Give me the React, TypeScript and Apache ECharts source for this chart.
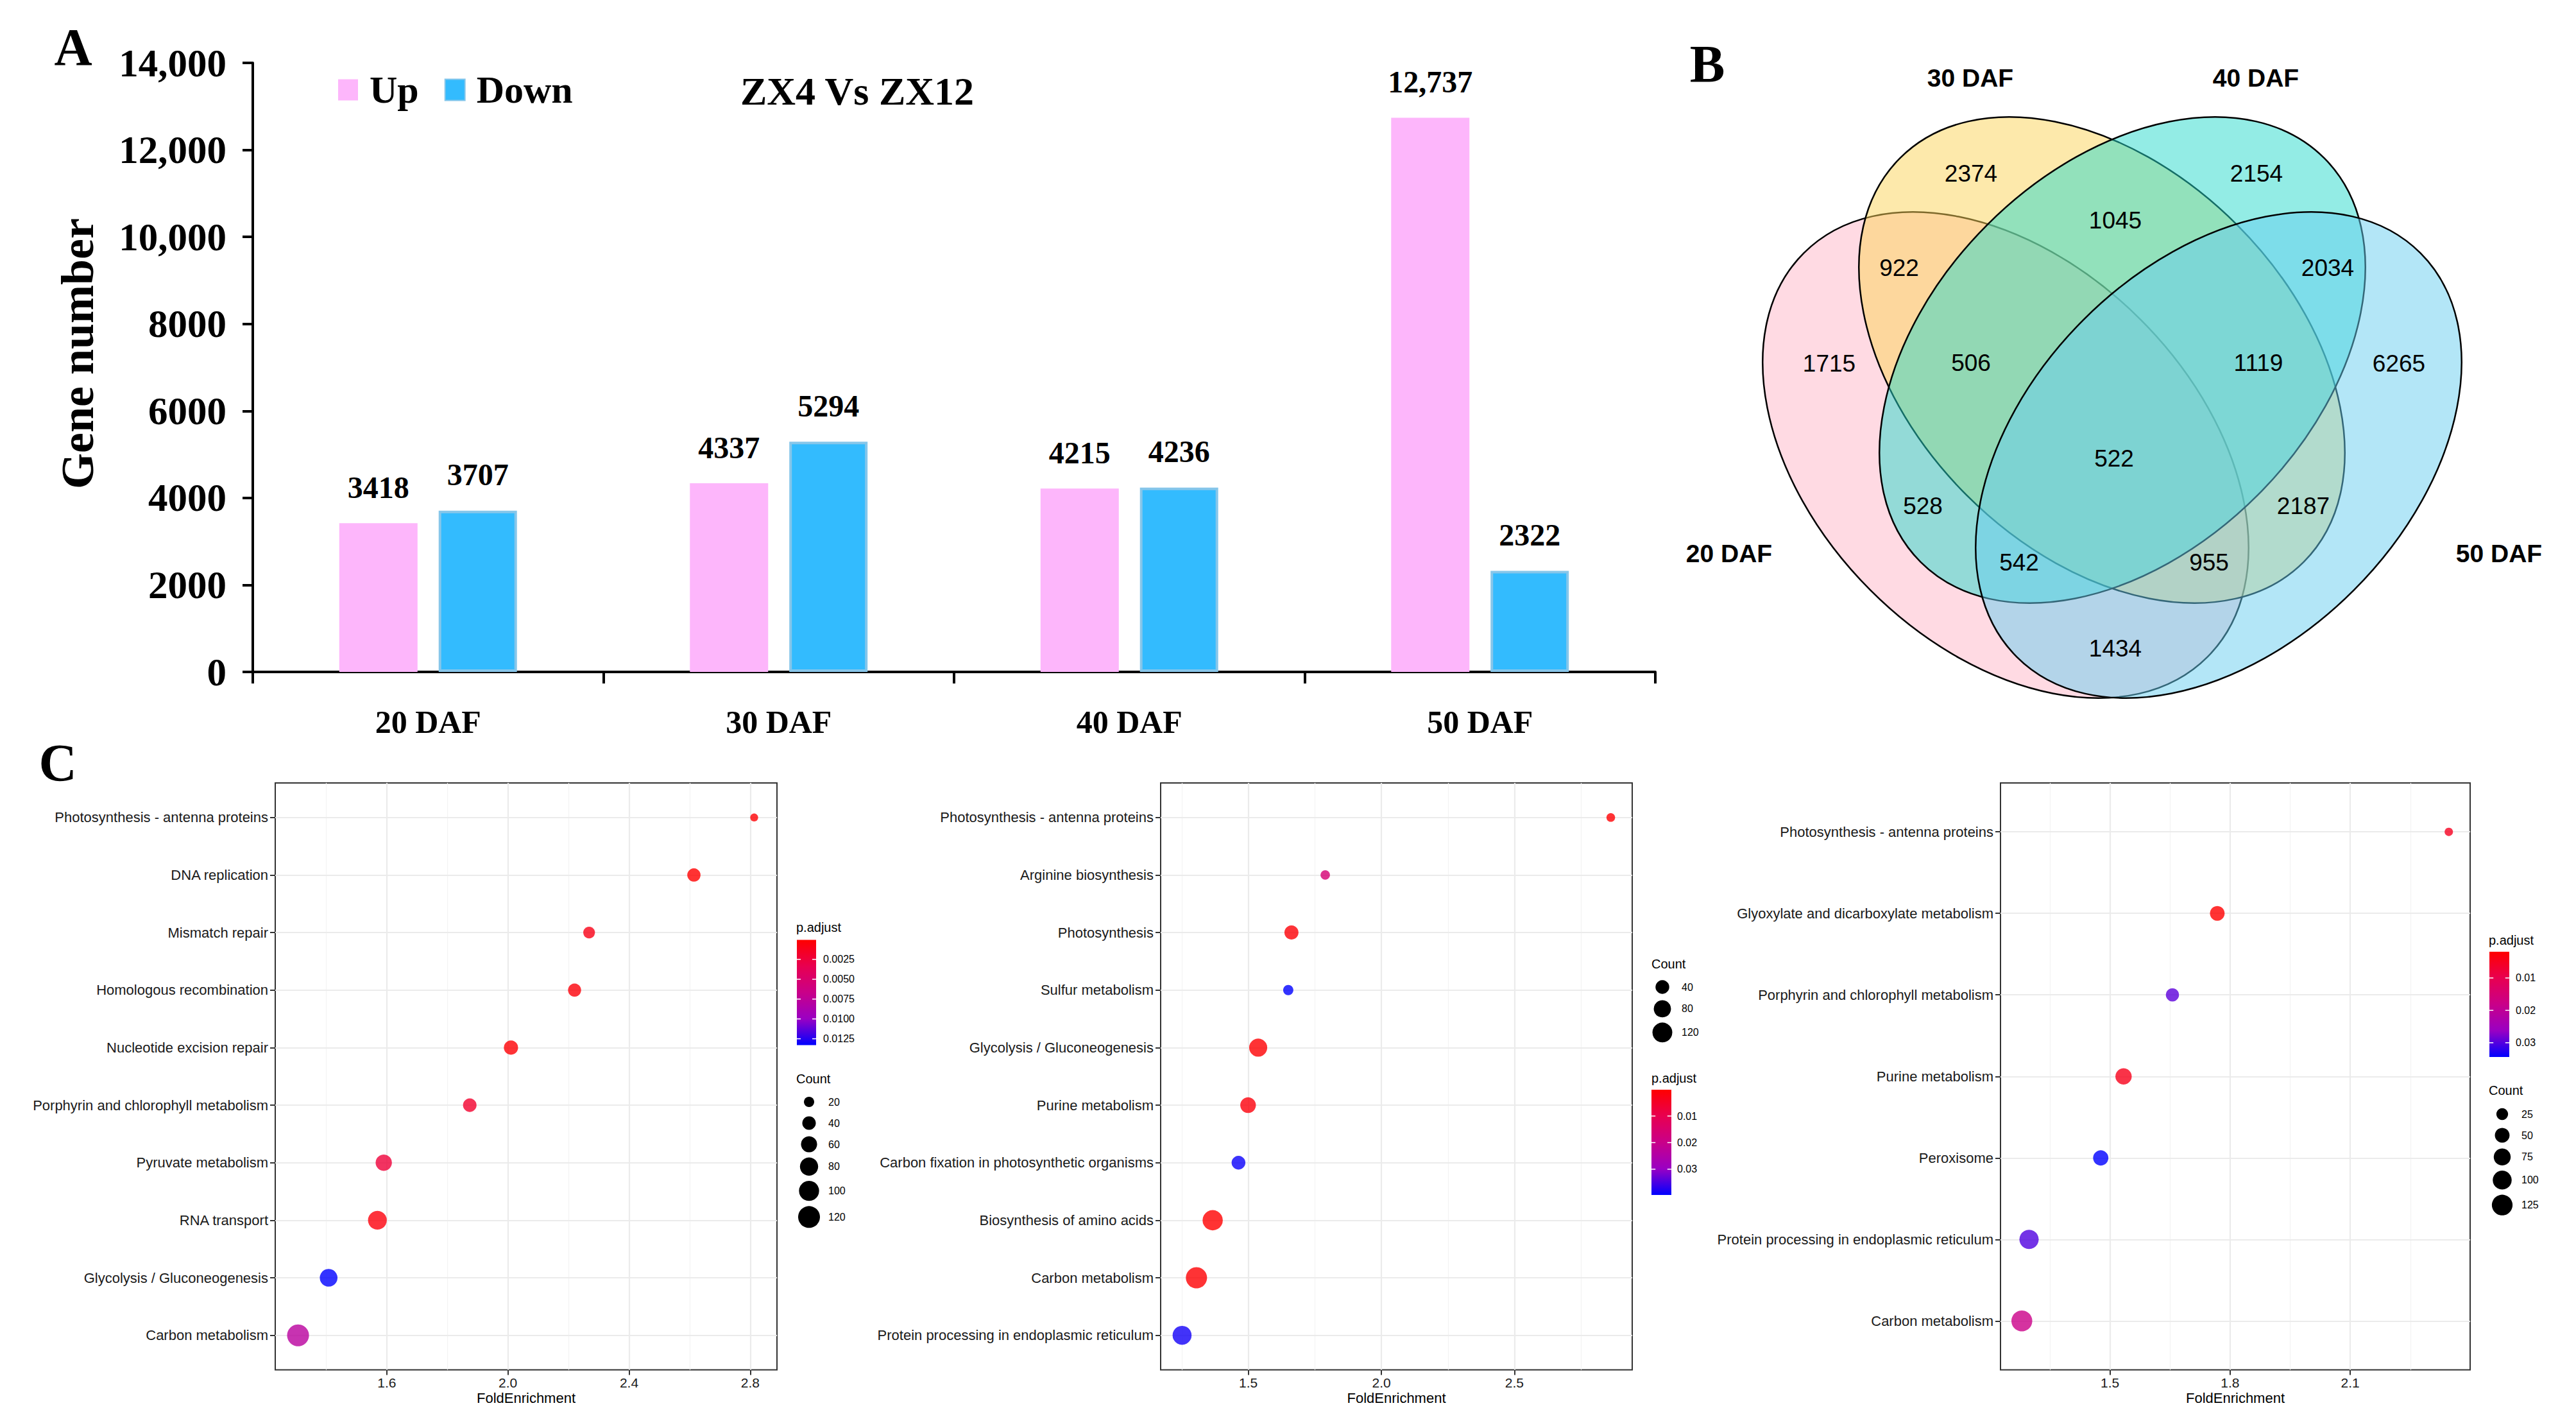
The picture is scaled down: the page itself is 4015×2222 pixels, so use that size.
import React, { useEffect, useRef } from "react";
import * as echarts from "echarts";

const W = 4015;
const H = 2222;
const SERIF = "'Liberation Serif', 'Times New Roman', serif";
const SANS = "'Liberation Sans', Arial, sans-serif";

// ---------------- Panel A data ----------------
const stages = ["20 DAF", "30 DAF", "40 DAF", "50 DAF"];
const upGenes = [3418, 4337, 4215, 12737];
const downGenes = [3707, 5294, 4236, 2322];
const geneAxisMax = 14000;
const geneAxisStep = 2000;

// ---------------- Panel B data ----------------
const vennSetNames = ["20 DAF", "30 DAF", "40 DAF", "50 DAF"];
const vennRegionKeys = ["A", "B", "C", "D", "AB", "BC", "CD", "AC", "BD", "AD", "ABC", "BCD", "ACD", "ABD", "ABCD"];
const vennRegionCounts = [1715, 2374, 2154, 6265, 922, 1045, 2034, 528, 2187, 1434, 506, 1119, 542, 955, 522];

// ---------------- Panel C data ----------------
const c1Terms = [
  "Photosynthesis - antenna proteins",
  "DNA replication",
  "Mismatch repair",
  "Homologous recombination",
  "Nucleotide excision repair",
  "Porphyrin and chlorophyll metabolism",
  "Pyruvate metabolism",
  "RNA transport",
  "Glycolysis / Gluconeogenesis",
  "Carbon metabolism",
];
const c1Fold = [2.813, 2.614, 2.268, 2.22, 2.01, 1.874, 1.59, 1.569, 1.408, 1.307];
const c1Count = [10, 38, 28, 37, 45, 40, 62, 86, 75, 121];
const c1Padj = [0.0002, 0.00004, 0.0009, 0.0004, 0.0002, 0.0019, 0.0024, 0.0005, 0.0133, 0.0078];
const c1XBreaks = [1.6, 2.0, 2.4, 2.8];
const c1XMinor = [1.4, 1.8, 2.2, 2.6];
const c1CountBreaks = [20, 40, 60, 80, 100, 120];
const c1PadjBreaks = [0.0025, 0.005, 0.0075, 0.01, 0.0125];

const c2Terms = [
  "Photosynthesis - antenna proteins",
  "Arginine biosynthesis",
  "Photosynthesis",
  "Sulfur metabolism",
  "Glycolysis / Gluconeogenesis",
  "Purine metabolism",
  "Carbon fixation in photosynthetic organisms",
  "Biosynthesis of amino acids",
  "Carbon metabolism",
  "Protein processing in endoplasmic reticulum",
];
const c2Fold = [2.862, 1.789, 1.662, 1.65, 1.537, 1.499, 1.463, 1.366, 1.305, 1.251];
const c2Count = [6, 9, 43, 13, 92, 60, 40, 126, 142, 106];
const c2Padj = [0.0003, 0.016, 0.0008, 0.0397, 0.0005, 0.0015, 0.039, 0.0001, 0.0004, 0.0385];
const c2XBreaks = [1.5, 2.0, 2.5];
const c2XMinor = [1.25, 1.75, 2.25, 2.75];
const c2CountBreaks = [40, 80, 120];
const c2PadjBreaks = [0.01, 0.02, 0.03];

const c3Terms = [
  "Photosynthesis - antenna proteins",
  "Glyoxylate and dicarboxylate metabolism",
  "Porphyrin and chlorophyll metabolism",
  "Purine metabolism",
  "Peroxisome",
  "Protein processing in endoplasmic reticulum",
  "Carbon metabolism",
];
const c3Fold = [2.346, 1.768, 1.656, 1.534, 1.477, 1.298, 1.28];
const c3Count = [7, 50, 36, 67, 56, 105, 128];
const c3Padj = [0.0052, 0.0019, 0.0295, 0.0045, 0.0344, 0.0302, 0.018];
const c3XBreaks = [1.5, 1.8, 2.1];
const c3XMinor = [1.35, 1.65, 1.95, 2.25];
const c3CountBreaks = [25, 50, 75, 100, 125];
const c3PadjBreaks = [0.01, 0.02, 0.03];

// red -> blue (approximating ggplot's Lab interpolation)
const pAdjustColors = ["#FF0000", "#E80050", "#C90089", "#9A00C3", "#0000FF"];

// ---------------- layout ----------------
const VENN_RX = 445;
const VENN_RY = 298;
const VENN_ELLIPSES = [
  { cx: 3126, cy: 709, rot: -Math.PI / 4, fill: "rgba(255,181,199,0.5)" },
  { cx: 3276, cy: 561, rot: -Math.PI / 4, fill: "rgba(251,211,87,0.5)" },
  { cx: 3308, cy: 561, rot: Math.PI / 4, fill: "rgba(39,217,203,0.5)" },
  { cx: 3458, cy: 709, rot: Math.PI / 4, fill: "rgba(103,205,239,0.5)" },
];
const VENN_SET_LABEL_POS = [
  [2695, 862],
  [3071, 121],
  [3516, 121],
  [3895, 862],
];
const VENN_REGION_POS: Record<string, [number, number]> = {
  A: [2851, 566],
  B: [3072, 270],
  C: [3517, 270],
  D: [3739, 566],
  AB: [2960, 417],
  BC: [3297, 343],
  CD: [3628, 417],
  AC: [2997, 788],
  BD: [3590, 788],
  AD: [3297, 1010],
  ABC: [3072, 565],
  BCD: [3520, 565],
  ACD: [3147, 876],
  ABD: [3443, 876],
  ABCD: [3295, 714],
};

type DotPanel = {
  terms: string[];
  fold: number[];
  count: number[];
  padj: number[];
  xBreaks: number[];
  xMinor: number[];
  countBreaks: number[];
  padjBreaks: number[];
  padjDigits: number;
  sizeA: number;
  sizeB: number;
  grid: { left: number; top: number; width: number; height: number };
  colorbar: { titleX: number; titleY: number; x: number; top: number; w: number; h: number; labelX: number };
  sizeLegend: { titleX: number; titleY: number; firstY: number; cx: number; labelX: number };
};

const dotPanels: DotPanel[] = [
  {
    terms: c1Terms, fold: c1Fold, count: c1Count, padj: c1Padj,
    xBreaks: c1XBreaks, xMinor: c1XMinor, countBreaks: c1CountBreaks, padjBreaks: c1PadjBreaks, padjDigits: 4,
    sizeA: 3.58, sizeB: 2.777,
    grid: { left: 429, top: 1220, width: 782, height: 914.5 },
    colorbar: { titleX: 1241, titleY: 1445, x: 1242, top: 1464.5, w: 30, h: 164, labelX: 1283 },
    sizeLegend: { titleX: 1241, titleY: 1680.5, firstY: 1717, cx: 1261, labelX: 1291 },
  },
  {
    terms: c2Terms, fold: c2Fold, count: c2Count, padj: c2Padj,
    xBreaks: c2XBreaks, xMinor: c2XMinor, countBreaks: c2CountBreaks, padjBreaks: c2PadjBreaks, padjDigits: 2,
    sizeA: 8.52, sizeB: 2.052,
    grid: { left: 1809, top: 1220, width: 735, height: 914.5 },
    colorbar: { titleX: 2574, titleY: 1680, x: 2574, top: 1698, w: 31, h: 164, labelX: 2614 },
    sizeLegend: { titleX: 2574, titleY: 1502, firstY: 1538, cx: 2591, labelX: 2621 },
  },
  {
    terms: c3Terms, fold: c3Fold, count: c3Count, padj: c3Padj,
    xBreaks: c3XBreaks, xMinor: c3XMinor, countBreaks: c3CountBreaks, padjBreaks: c3PadjBreaks, padjDigits: 2,
    sizeA: 7.05, sizeB: 2.25,
    grid: { left: 3118, top: 1220, width: 732, height: 914.5 },
    colorbar: { titleX: 3879, titleY: 1464.5, x: 3880, top: 1483, w: 31, h: 164, labelX: 3921 },
    sizeLegend: { titleX: 3879, titleY: 1699, firstY: 1736, cx: 3900, labelX: 3930 },
  },
];

function fmtGene(v: number) {
  const s = String(v);
  return v >= 10000 ? s.replace(/\B(?=(\d{3})+(?!\d))/g, ",") : s;
}

function sizeOf(p: DotPanel, c: number) {
  return p.sizeA + p.sizeB * Math.sqrt(c);
}

function txt(text: string, x: number, y: number, size: number, opts: any = {}) {
  return {
    type: "text",
    x,
    y,
    rotation: opts.rotation || 0,
    silent: true,
    style: {
      text,
      fontSize: size,
      fontFamily: opts.family || SANS,
      fontWeight: opts.weight || "normal",
      fill: opts.color || "#000",
      align: opts.align || "left",
      textAlign: opts.align || "left",
      verticalAlign: "middle",
      textVerticalAlign: "middle",
    },
  };
}

function legendGraphics(p: DotPanel) {
  const els: any[] = [];
  const pmin = Math.min(...p.padj);
  const pmax = Math.max(...p.padj);
  const cb = p.colorbar;
  els.push(txt("p.adjust", cb.titleX, cb.titleY, 20));
  els.push({
    type: "rect",
    silent: true,
    shape: { x: cb.x, y: cb.top, width: cb.w, height: cb.h },
    style: {
      fill: {
        type: "linear", x: 0, y: 0, x2: 0, y2: 1,
        colorStops: pAdjustColors.map((c, i) => ({ offset: i / (pAdjustColors.length - 1), color: c })),
      },
    },
  });
  p.padjBreaks.forEach((b) => {
    const y = cb.top + ((b - pmin) / (pmax - pmin)) * cb.h;
    els.push({ type: "line", silent: true, shape: { x1: cb.x, y1: y, x2: cb.x + cb.w * 0.2, y2: y }, style: { stroke: "#fff", lineWidth: 1.5 } });
    els.push({ type: "line", silent: true, shape: { x1: cb.x + cb.w * 0.8, y1: y, x2: cb.x + cb.w, y2: y }, style: { stroke: "#fff", lineWidth: 1.5 } });
    els.push(txt(b.toFixed(p.padjDigits), cb.labelX, y, 16));
  });
  const sl = p.sizeLegend;
  els.push(txt("Count", sl.titleX, sl.titleY, 20));
  let y = sl.firstY;
  let prevH = 0;
  p.countBreaks.forEach((c, i) => {
    const d = sizeOf(p, c);
    const h = Math.max(33, d + 8);
    if (i > 0) y += (prevH + h) / 2;
    prevH = h;
    els.push({ type: "circle", silent: true, shape: { cx: sl.cx, cy: y, r: d / 2 }, style: { fill: "#000" } });
    els.push(txt(String(c), sl.labelX, y, 16));
  });
  return els;
}

function buildOption() {
  const grids: any[] = [
    { left: 394, top: 98, width: 2186, height: 949, outerBoundsMode: "none" },
    ...dotPanels.map((p) => ({
      ...p.grid,
      show: true,
      borderColor: "#333",
      borderWidth: 2,
      backgroundColor: "rgba(0,0,0,0)",
      outerBoundsMode: "none",
    })),
  ];

  const xAxes: any[] = [
    {
      gridIndex: 0,
      type: "category",
      data: stages,
      axisLine: { show: true, lineStyle: { color: "#000", width: 4 } },
      axisTick: { show: true, length: 18, lineStyle: { color: "#000", width: 4 } },
      axisLabel: { margin: 53, fontFamily: SERIF, fontWeight: "bold", fontSize: 50, color: "#000" },
      splitLine: { show: false },
    },
    ...dotPanels.map((p, i) => {
      const lo = Math.min(...p.fold);
      const hi = Math.max(...p.fold);
      const pad = 0.05 * (hi - lo);
      return {
        gridIndex: i + 1,
        type: "value",
        min: lo - pad,
        max: hi + pad,
        axisLine: { show: false, onZero: false },
        axisTick: { show: true, customValues: p.xBreaks, length: 8, lineStyle: { color: "#333", width: 2 } },
        axisLabel: {
          customValues: p.xBreaks,
          margin: 9,
          fontFamily: SANS,
          fontSize: 21,
          color: "#1a1a1a",
          formatter: (v: number) => v.toFixed(1),
        },
        splitLine: { show: false },
        name: "FoldEnrichment",
        nameLocation: "middle",
        nameGap: 33,
        nameTextStyle: { fontFamily: SANS, fontSize: 22, color: "#000" },
      };
    }),
  ];

  const yAxes: any[] = [
    {
      gridIndex: 0,
      type: "value",
      min: 0,
      max: geneAxisMax,
      interval: geneAxisStep,
      axisLine: { show: true, lineStyle: { color: "#000", width: 4 } },
      axisTick: { show: true, length: 16, lineStyle: { color: "#000", width: 4 } },
      axisLabel: {
        margin: 41,
        fontFamily: SERIF,
        fontWeight: "bold",
        fontSize: 61,
        color: "#000",
        formatter: (v: number) => fmtGene(v),
      },
      splitLine: { show: false },
    },
    ...dotPanels.map((p, i) => {
      const idx = p.terms.map((_, k) => k);
      return {
        gridIndex: i + 1,
        type: "value",
        inverse: true,
        min: -0.6,
        max: p.terms.length - 1 + 0.6,
        axisLine: { show: false, onZero: false },
        axisTick: { show: true, customValues: idx, length: 8, lineStyle: { color: "#333", width: 2 } },
        axisLabel: {
          customValues: idx,
          margin: 11,
          fontFamily: SANS,
          fontSize: 22,
          color: "#1a1a1a",
          formatter: (v: number) => {
            const k = Math.round(v);
            return Math.abs(v - k) < 1e-6 && p.terms[k] ? p.terms[k] : "";
          },
        },
        splitLine: { show: false },
      };
    }),
  ];

  const barLabel = {
    show: true,
    position: "top",
    distance: 32,
    fontFamily: SERIF,
    fontWeight: "bold",
    fontSize: 48,
    color: "#000",
    formatter: (pr: any) => fmtGene(pr.value),
  };

  const series: any[] = [
    {
      type: "bar",
      name: "Up",
      xAxisIndex: 0,
      yAxisIndex: 0,
      data: upGenes,
      barWidth: 122,
      barGap: "27%",
      itemStyle: { color: "#FDB6FB" },
      label: barLabel,
    },
    {
      type: "bar",
      name: "Down",
      xAxisIndex: 0,
      yAxisIndex: 0,
      data: downGenes,
      barWidth: 122,
      barGap: "27%",
      itemStyle: { color: "#33BBFE", borderColor: "#86C6EA", borderWidth: 4 },
      label: barLabel,
    },
    ...dotPanels.map((p, i) => {
      const major = { color: "#EBEBEB", width: 2.2, type: "solid" };
      const minor = { color: "#F3F3F3", width: 1.2, type: "solid" };
      return {
        type: "scatter",
        xAxisIndex: i + 1,
        yAxisIndex: i + 1,
        z: 5,
        data: p.terms.map((t, k) => [p.fold[k], k, p.count[k], p.padj[k], t]),
        symbol: "circle",
        symbolSize: (v: any[]) => sizeOf(p, v[2]),
        markLine: {
          z: 1,
          silent: true,
          symbol: ["none", "none"],
          label: { show: false },
          emphasis: { disabled: true },
          data: [
            ...p.xMinor.map((v) => ({ xAxis: v, lineStyle: minor })),
            ...p.xBreaks.map((v) => ({ xAxis: v, lineStyle: major })),
            ...p.terms.map((_, k) => ({ yAxis: k, lineStyle: major })),
          ],
        },
      };
    }),
  ];

  const visualMaps = dotPanels.map((p, i) => ({
    type: "continuous",
    show: false,
    seriesIndex: i + 2,
    dimension: 3,
    min: Math.min(...p.padj),
    max: Math.max(...p.padj),
    inRange: { color: pAdjustColors },
  }));

  const graphics: any[] = [];
  // panel letters
  graphics.push(txt("A", 114, 73, 82, { family: SERIF, weight: "bold", align: "center" }));
  graphics.push(txt("B", 2661, 99, 82, { family: SERIF, weight: "bold", align: "center" }));
  graphics.push(txt("C", 90, 1188, 82, { family: SERIF, weight: "bold", align: "center" }));
  // panel A extras
  graphics.push(txt("Gene number", 121, 551, 72, { family: SERIF, weight: "bold", align: "center", rotation: Math.PI / 2 }));
  graphics.push(txt("ZX4 Vs ZX12", 1336, 142, 62, { family: SERIF, weight: "bold", align: "center" }));
  // Venn
  VENN_ELLIPSES.forEach((e) => {
    graphics.push({
      type: "ellipse",
      silent: true,
      x: e.cx,
      y: e.cy,
      rotation: e.rot,
      shape: { cx: 0, cy: 0, rx: VENN_RX, ry: VENN_RY },
      style: { fill: e.fill, stroke: "#000", lineWidth: 2.5 },
    });
  });
  vennSetNames.forEach((n, i) => {
    const [x, y] = VENN_SET_LABEL_POS[i];
    graphics.push(txt(n, x, y, 39, { weight: "bold", align: "center" }));
  });
  vennRegionKeys.forEach((k, i) => {
    const [x, y] = VENN_REGION_POS[k];
    graphics.push(txt(String(vennRegionCounts[i]), x, y, 37, { align: "center" }));
  });
  // dot-plot legends
  dotPanels.forEach((p) => graphics.push(...legendGraphics(p)));

  return {
    animation: false,
    backgroundColor: "#fff",
    grid: grids,
    xAxis: xAxes,
    yAxis: yAxes,
    series,
    visualMap: visualMaps,
    legend: {
      data: ["Up", "Down"],
      left: 527,
      top: 110,
      padding: 0,
      itemWidth: 31,
      itemHeight: 33,
      itemGap: 40,
      icon: "rect",
      selectedMode: false,
      textStyle: { fontFamily: SERIF, fontWeight: "bold", fontSize: 60, color: "#000", padding: [0, 0, 0, 13] },
    },
    graphic: { elements: graphics },
  };
}

export default function App() {
  const ref = useRef<HTMLDivElement>(null);
  useEffect(() => {
    if (!ref.current) return;
    const chart = echarts.init(ref.current, null, { renderer: "svg", width: W, height: H });
    chart.setOption(buildOption() as any);
    return () => chart.dispose();
  }, []);
  return (
    <div
      ref={ref}
      style={{ position: "fixed", left: 0, top: 0, width: W, height: H, background: "#fff" }}
    />
  );
}
